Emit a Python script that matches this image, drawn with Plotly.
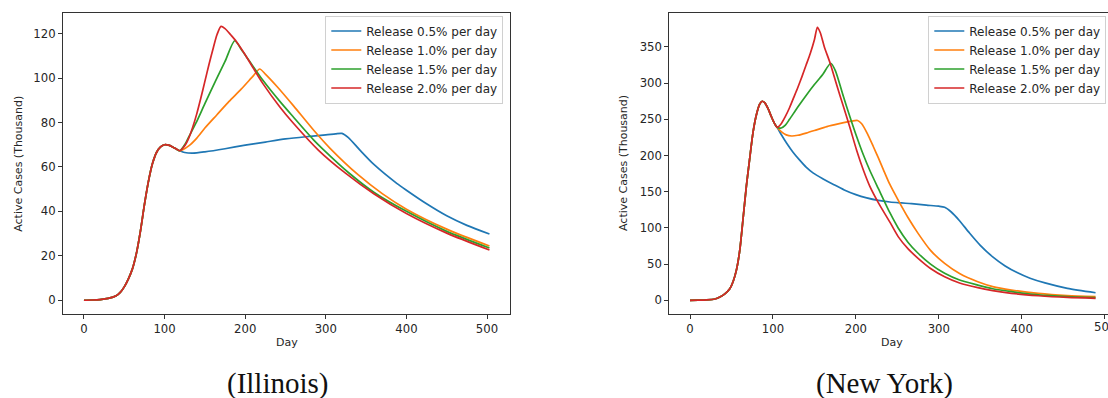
import plotly.graph_objects as go

W, H = 1108, 398

labels = ["Release 0.5% per day", "Release 1.0% per day", "Release 1.5% per day", "Release 2.0% per day"]
colors = ["#1f77b4", "#ff7f0e", "#2ca02c", "#d62728"]

# ---------------- Illinois ----------------
il_common_days = [0, 10, 20, 30, 40, 45, 50, 55, 60, 65, 70, 75, 80, 85, 90, 95, 100, 105, 110, 115]
il_common_vals = [0, 0.1, 0.3, 0.8, 2.0, 3.5, 6, 9.5, 14, 21, 31, 43, 53.5, 61.5, 66.5, 69, 70, 69.8, 69, 68]

il_blue_days = [119, 125, 135, 150, 175, 200, 225, 250, 275, 300, 312, 320, 328, 342, 360, 388, 400, 425, 450, 475, 503]
il_blue_vals = [67.3, 66.5, 66.2, 66.8, 68.2, 69.8, 71.2, 72.6, 73.6, 74.4, 74.9, 75.1, 73.2, 67.7, 61, 52.6, 49.5, 43.4, 38, 33.7, 29.8]

il_orange_days = [119, 130, 140, 150, 165, 180, 195, 210, 218, 225, 240, 260, 285, 305, 340, 370, 400, 450, 503]
il_orange_vals = [67.3, 69.5, 73, 77.5, 83.5, 89.5, 95, 101, 104.1, 101.8, 96, 87.5, 76.5, 68.5, 56.5, 48, 41, 32, 24.4]

il_green_days = [119, 125, 130, 139, 150, 164, 175, 187, 195, 205, 222, 243, 259, 284.5, 297, 328, 360, 400, 450, 503]
il_green_vals = [67.3, 70, 73.5, 79.8, 88.5, 99.3, 107.5, 116.8, 113, 107.8, 99, 89.5, 82.8, 72.3, 67.8, 57.5, 48.5, 40, 31, 23.5]

il_red_days = [119, 125, 130, 135, 140, 145, 150, 155, 160, 165, 170, 175, 182, 189, 200, 210, 222, 243, 259, 290.7, 324, 360, 400, 450, 503]
il_red_vals = [67.3, 69.5, 73, 78, 84, 91, 98.5, 106, 113, 119.5, 123.3, 122.3, 119.5, 116.5, 110.5, 104.5, 97.5, 87, 80, 67.6, 57.3, 47.8, 39, 30.2, 22.6]

# ---------------- New York ----------------
ny_common_days = [0, 10, 20, 30, 36, 42, 48, 52, 56, 60, 64, 68, 72, 76, 80, 84, 87, 90, 94, 98, 102]
ny_common_vals = [0, 0.2, 0.6, 1.8, 4.5, 9, 16, 26, 42, 69, 113, 158, 196, 232, 256, 271, 275, 273, 265, 254, 244]

ny_blue_days = [105, 110, 116.6, 124, 132, 140, 148.7, 160, 173, 186, 200, 213, 227, 241, 255, 267, 285, 300, 307, 315, 325, 337, 350, 365, 380, 395, 410, 428, 455, 489]
ny_blue_vals = [239, 229, 217, 205, 194, 184, 175.7, 168, 160, 152.5, 146, 141.5, 138, 135.8, 134.5, 133.5, 131.5, 130, 128.5, 122, 110, 93, 76, 60, 47.5, 38, 30.5, 24, 16.5, 10.5]

ny_orange_days = [105, 110, 116, 122.6, 130, 140, 150, 165, 180, 195, 202, 207, 214, 221, 227, 233, 241, 251, 263, 275, 290, 307, 325, 347, 365, 387.6, 420, 455, 489]
ny_orange_vals = [239, 233, 228.5, 227, 228, 231, 234.5, 240, 244, 247.5, 248.4, 244, 230, 212.5, 197, 181, 160, 138.4, 114, 92.5, 69, 51, 37, 25.7, 19, 14.2, 9.5, 6.5, 5]

ny_green_days = [105, 110, 115, 120, 130, 140, 150, 160, 169.7, 175, 185, 193, 201, 209, 217, 227, 241, 251, 263, 275, 290, 307, 325, 347, 365, 387.6, 420, 455, 489]
ny_green_vals = [239, 238, 242, 250, 267, 283, 298, 312, 327.5, 318, 281.5, 253, 226, 201, 179, 154.6, 121, 100, 80, 65, 50, 37.3, 28, 21, 16, 11.9, 7.5, 5, 3.6]

ny_red_days = [105, 110, 115, 120, 125, 130, 135, 140, 145, 150, 153.6, 157, 162, 169, 177, 185, 193, 201, 209, 217, 227, 241, 251, 263, 275, 290, 307, 325, 347, 365, 387.6, 420, 455, 489]
ny_red_vals = [239, 244, 254, 266, 280, 294, 309, 325, 341, 360, 377, 370, 350, 327.5, 297, 267.7, 238, 207, 180, 157, 135, 108, 88, 71, 58, 44, 32.6, 24, 17.5, 13.5, 9.7, 6.3, 4, 2.8]

il_x_ticks = [0, 100, 200, 300, 400, 500]
il_y_ticks = [0, 20, 40, 60, 80, 100, 120]
ny_x_ticks = [0, 100, 200, 300, 400, 500]
ny_y_ticks = [0, 50, 100, 150, 200, 250, 300, 350]

il_series = [(il_blue_days, il_blue_vals), (il_orange_days, il_orange_vals),
             (il_green_days, il_green_vals), (il_red_days, il_red_vals)]
ny_series = [(ny_blue_days, ny_blue_vals), (ny_orange_days, ny_orange_vals),
             (ny_green_days, ny_green_vals), (ny_red_days, ny_red_vals)]

fig = go.Figure()
for i, (d, v) in enumerate(il_series):
    fig.add_trace(go.Scatter(
        x=il_common_days + d, y=il_common_vals + v, mode="lines", name=labels[i],
        line=dict(color=colors[i], width=1.7, shape="spline", smoothing=0.7),
        xaxis="x", yaxis="y", legend="legend"))
for i, (d, v) in enumerate(ny_series):
    fig.add_trace(go.Scatter(
        x=ny_common_days + d, y=ny_common_vals + v, mode="lines", name=labels[i],
        line=dict(color=colors[i], width=1.7, shape="spline", smoothing=0.7),
        xaxis="x2", yaxis="y2", legend="legend2"))

def px(x):
    return x / W

def py(y):
    return 1 - y / H

tickfont = dict(family="DejaVu Sans", size=11.7, color="#262626")
axis_common = dict(showgrid=False, zeroline=False, ticks="outside", ticklen=4,
                   tickwidth=1, tickcolor="#333", linecolor="#333", linewidth=1,
                   showline=True, tickfont=tickfont)

legend_style = dict(y=py(15.5), yanchor="top", bgcolor="white", bordercolor="#d0d0d0",
                    borderwidth=1, font=dict(family="DejaVu Sans", size=12, color="#262626"),
                    tracegroupgap=0, itemwidth=30)

fig.update_layout(
    width=W, height=H, margin=dict(l=0, r=0, t=0, b=0),
    paper_bgcolor="white", plot_bgcolor="white",
    xaxis=dict(domain=[px(63), px(510)], range=[-26, 528.5], tickvals=il_x_ticks,
               mirror=True, anchor="y", **axis_common),
    yaxis=dict(domain=[py(314), py(13)], range=[-6.2, 129.3], tickvals=il_y_ticks,
               mirror=True, anchor="x", **axis_common),
    xaxis2=dict(domain=[px(669.3), 1.0], range=[-24.96, 504.0], tickvals=ny_x_ticks,
                mirror=True, anchor="y2", **axis_common),
    yaxis2=dict(domain=[py(314), py(13)], range=[-18.9, 396.9], tickvals=ny_y_ticks,
                mirror=False, anchor="x2", **axis_common),
    legend=dict(x=px(503.3), xanchor="right", **legend_style),
    legend2=dict(x=px(928.3), xanchor="left", **legend_style),
    showlegend=True,
)

annots = [
    dict(text="Active Cases (Thousand)", x=px(18.3), y=py(163.5), textangle=-90),
    dict(text="Day", x=px(286.5), y=py(342)),
    dict(text="Active Cases (Thousand)", x=px(623.5), y=py(163.5), textangle=-90),
    dict(text="Day", x=px(892), y=py(342)),
]
for a in annots:
    fig.add_annotation(xref="paper", yref="paper", showarrow=False,
                       xanchor="center", yanchor="middle",
                       font=dict(family="DejaVu Sans", size=11, color="#262626"), **a)

# tick label "500" of the New York axis, cut by the right edge of the image (as in the reference)
fig.add_annotation(text=str(ny_x_ticks[-1]), xref="x2", yref="paper", x=ny_x_ticks[-1],
                   y=py(326.5), showarrow=False, xanchor="center", yanchor="middle",
                   font=tickfont)

for txt, cx in [("(Illinois)", 278), ("(New York)", 884)]:
    fig.add_annotation(text=txt, xref="paper", yref="paper", x=px(cx), y=py(383),
                       showarrow=False, xanchor="center", yanchor="middle",
                       font=dict(family="Liberation Serif", size=29, color="#111"))

fig.write_html("out.html")
